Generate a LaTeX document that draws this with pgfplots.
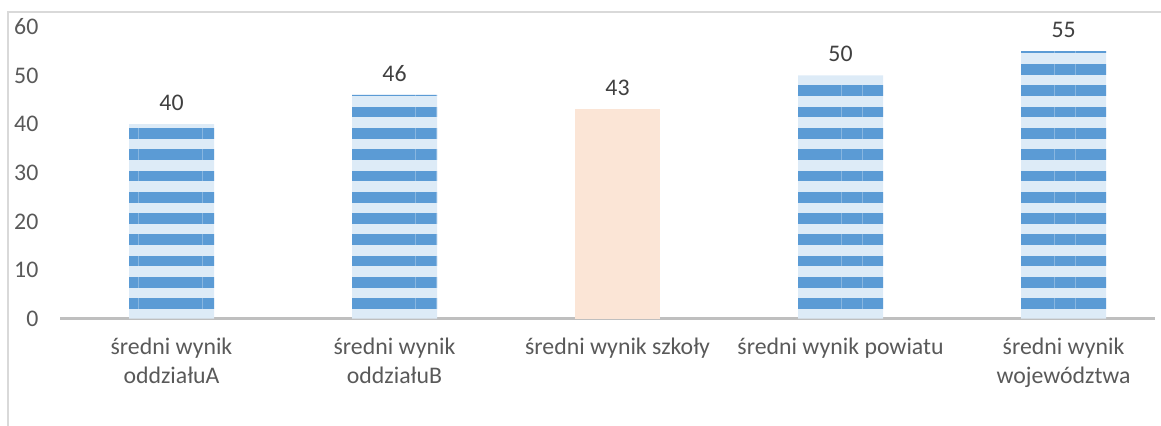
\documentclass[border=0pt]{standalone}
\usepackage{pgfplots}
\pgfplotsset{compat=1.18}
\usepackage{fontspec}
\setmainfont{Carlito}
\usetikzlibrary{patterns.meta}
\definecolor{stripe}{HTML}{5B9BD5}
\definecolor{stripebg}{HTML}{DDEBF7}
\definecolor{peach}{HTML}{FBE5D6}
\definecolor{axisgray}{HTML}{BFBFBF}
\definecolor{framegray}{HTML}{D9D9D9}
\definecolor{ticktext}{HTML}{595959}
\definecolor{valtext}{HTML}{404040}

\begin{document}
\begin{tikzpicture}
\begin{axis}[
  at={(30pt,53.15pt)}, anchor=south west,
  scale only axis, width=547.5pt, height=146pt,
  xmin=-0.5, xmax=4.41, ymin=0, ymax=60,
  ytick={0,10,...,60},
  xtick={0,...,4},
  xticklabels={{średni wynik\\oddziałuA},{średni wynik\\oddziałuB},{średni wynik szkoły},{średni wynik powiatu},{średni wynik\\województwa}},
  axis lines*=left,
  y axis line style={draw=none},
  x axis line style={draw=axisgray, line width=1.25pt},
  major tick length=0pt,
  ybar, bar width=42.5pt, bar shift=0pt,
  clip=false,
  /pgf/number format/assume math mode=true,
  tick label style={font=\fontsize{11.9}{14.5}\selectfont, text=ticktext},
  xticklabel style={align=center, yshift=-6pt},
  yticklabel style={xshift=-7.3pt},
  nodes near coords,
  every node near coord/.append style={font=\fontsize{11.9}{14.5}\selectfont, text=valtext, yshift=3.3pt},
]
\addplot[fill=stripebg, draw=none,
  postaction={pattern={Lines[angle=0, distance=10.65pt, line width=5.35pt, yshift=7.4pt]}, pattern color=stripe}]
  coordinates {(0,40) (1,46) (3,50) (4,55)};
\addplot[fill=peach, draw=none] coordinates {(2,43)};
\end{axis}
\pgfresetboundingbox
\path[use as bounding box] (0,0) rectangle (580.5pt,212.5pt);
\draw[framegray, line width=1pt] (4pt,-2pt) -- (4pt,206.5pt) -- (585pt,206.5pt);
\end{tikzpicture}
\end{document}
